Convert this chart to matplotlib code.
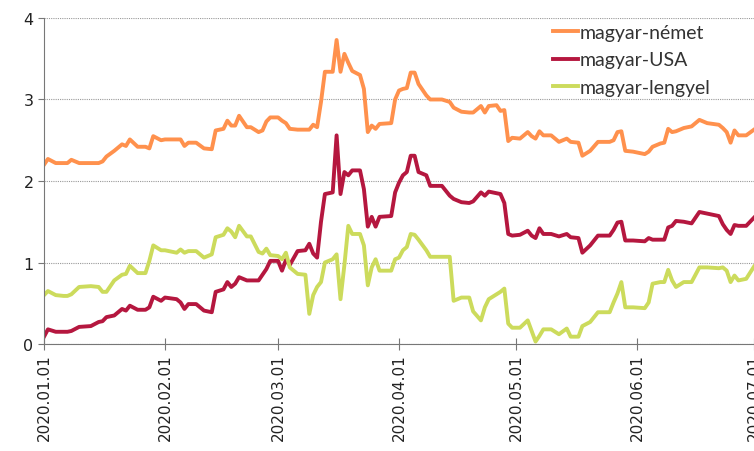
import numpy as np
import pandas as pd
import matplotlib
matplotlib.use("Agg")
import matplotlib.pyplot as plt
import matplotlib.dates as mdates

# -------- DATA --------
START = "2020-01-01"
# days since 2020-01-01
days = [0, 1, 3, 5, 6, 7, 9, 12, 14, 15, 16, 18, 20, 21, 22, 24, 26, 27, 28, 30,
        31, 34, 35, 36, 37, 39, 41, 43, 44, 46, 47, 48, 49, 50, 52, 53, 55, 56, 57, 58,
        60, 61, 62, 63, 65, 67, 68, 69, 70, 71, 72, 74, 75, 76, 77, 78, 79, 81, 82, 83,
        84, 85, 86, 89, 90, 91, 92, 93, 94, 95, 96, 98, 99, 102, 104, 105, 107, 109, 110, 112,
        113, 114, 116, 117, 118, 119, 120, 122, 124, 125, 126, 127, 128, 130, 132, 134, 135, 137, 138, 140,
        142, 145, 146, 147, 148, 149, 151, 154, 155, 156, 158, 159, 160, 161, 162, 164, 166, 168, 170, 173,
        174, 175, 176, 177, 178, 180, 182]

nemet = [2.20, 2.27, 2.22, 2.22, 2.22, 2.26, 2.22, 2.22, 2.22, 2.24, 2.30, 2.37, 2.45, 2.43, 2.51, 2.42, 2.42, 2.40, 2.55, 2.50,
         2.51, 2.51, 2.51, 2.43, 2.47, 2.47, 2.40, 2.39, 2.62, 2.64, 2.74, 2.68, 2.68, 2.80, 2.66, 2.66, 2.60, 2.62, 2.73, 2.78,
         2.78, 2.74, 2.71, 2.64, 2.63, 2.63, 2.63, 2.69, 2.66, 2.97, 3.34, 3.34, 3.73, 3.34, 3.56, 3.45, 3.35, 3.30, 3.13, 2.60,
         2.68, 2.64, 2.70, 2.71, 3.00, 3.11, 3.13, 3.14, 3.33, 3.33, 3.19, 3.05, 3.00, 3.00, 2.97, 2.90, 2.85, 2.84, 2.84, 2.92,
         2.84, 2.92, 2.93, 2.86, 2.87, 2.49, 2.53, 2.52, 2.60, 2.55, 2.52, 2.61, 2.56, 2.56, 2.48, 2.52, 2.48, 2.47, 2.31, 2.37,
         2.48, 2.48, 2.50, 2.60, 2.61, 2.37, 2.36, 2.33, 2.36, 2.42, 2.46, 2.47, 2.64, 2.60, 2.61, 2.65, 2.67, 2.75, 2.71, 2.69,
         2.65, 2.60, 2.47, 2.62, 2.56, 2.56, 2.63]

usa = [0.09, 0.18, 0.15, 0.15, 0.15, 0.16, 0.21, 0.22, 0.27, 0.28, 0.33, 0.35, 0.43, 0.41, 0.47, 0.42, 0.42, 0.45, 0.58, 0.53,
       0.57, 0.55, 0.51, 0.43, 0.49, 0.49, 0.41, 0.39, 0.64, 0.67, 0.76, 0.70, 0.74, 0.82, 0.78, 0.78, 0.78, 0.85, 0.92, 1.02,
       1.02, 0.90, 1.03, 0.97, 1.14, 1.15, 1.23, 1.11, 1.06, 1.50, 1.84, 1.86, 2.56, 1.84, 2.11, 2.07, 2.13, 2.13, 1.90, 1.44,
       1.56, 1.44, 1.56, 1.57, 1.86, 1.98, 2.07, 2.11, 2.31, 2.31, 2.11, 2.07, 1.94, 1.94, 1.82, 1.78, 1.74, 1.73, 1.75, 1.86,
       1.82, 1.87, 1.85, 1.84, 1.73, 1.35, 1.33, 1.34, 1.39, 1.33, 1.30, 1.42, 1.35, 1.35, 1.32, 1.35, 1.31, 1.30, 1.12, 1.21,
       1.33, 1.33, 1.40, 1.49, 1.50, 1.27, 1.27, 1.26, 1.30, 1.28, 1.28, 1.28, 1.43, 1.45, 1.51, 1.50, 1.48, 1.62, 1.60, 1.57,
       1.47, 1.40, 1.35, 1.46, 1.45, 1.45, 1.55]

lengyel = [0.60, 0.65, 0.60, 0.59, 0.59, 0.61, 0.70, 0.71, 0.70, 0.64, 0.64, 0.78, 0.85, 0.86, 0.96, 0.87, 0.87, 1.02, 1.21, 1.15,
           1.15, 1.12, 1.16, 1.12, 1.14, 1.14, 1.06, 1.10, 1.31, 1.34, 1.42, 1.38, 1.31, 1.45, 1.32, 1.32, 1.13, 1.11, 1.17, 1.09,
           1.08, 1.04, 1.12, 0.94, 0.86, 0.85, 0.37, 0.60, 0.70, 0.76, 1.00, 1.04, 1.10, 0.55, 0.97, 1.45, 1.35, 1.35, 1.21, 0.72,
           0.94, 1.04, 0.90, 0.90, 1.04, 1.06, 1.15, 1.19, 1.35, 1.34, 1.28, 1.15, 1.07, 1.07, 1.07, 0.53, 0.57, 0.57, 0.40, 0.29,
           0.45, 0.55, 0.61, 0.64, 0.68, 0.25, 0.20, 0.20, 0.29, 0.16, 0.03, 0.10, 0.18, 0.18, 0.12, 0.19, 0.09, 0.09, 0.22, 0.27,
           0.39, 0.39, 0.51, 0.62, 0.76, 0.45, 0.45, 0.44, 0.51, 0.74, 0.76, 0.76, 0.91, 0.78, 0.70, 0.76, 0.76, 0.94, 0.94, 0.93,
           0.94, 0.90, 0.76, 0.84, 0.78, 0.80, 0.95]

series_labels = ["magyar-német", "magyar-USA", "magyar-lengyel"]
series_colors = ["#FF914D", "#B5173F", "#CCDB5C"]
y_ticks = [0, 1, 2, 3, 4]
# ----------------------


def main():
    dates = pd.Timestamp(START) + pd.to_timedelta(days, unit="D")

    fig = plt.figure(figsize=(7.54, 4.52), dpi=100)
    ax = fig.add_axes([0.0584, 0.2367, 0.9416, 0.7213])

    for vals, lab, col in zip([nemet, usa, lengyel], series_labels, series_colors):
        ax.plot(dates, vals, color=col, linewidth=2.8, label=lab, solid_joinstyle="round")

    ax.set_ylim(0, 4)
    ax.set_yticks(y_ticks)
    ax.set_xlim(pd.Timestamp("2020-01-01"), pd.Timestamp("2020-07-01"))
    ax.xaxis.set_major_locator(mdates.MonthLocator())
    ax.xaxis.set_major_formatter(mdates.DateFormatter("%Y.%m.%d"))
    plt.setp(ax.get_xticklabels(), rotation=90)

    ax.grid(axis="y", linestyle=(0, (1, 1)), color="#999999", linewidth=0.8)
    ax.set_axisbelow(True)
    for s in ["top", "right"]:
        ax.spines[s].set_visible(False)
    ax.spines["left"].set_color("#777777")
    ax.spines["bottom"].set_color("#777777")
    ax.tick_params(axis="x", direction="inout", length=8, color="#777777",
                   labelsize=11, labelcolor="#222222", pad=2.5)
    ax.tick_params(axis="y", direction="out", length=4, color="#777777",
                   labelsize=11.5, labelcolor="#222222")

    leg = ax.legend(loc="upper right", bbox_to_anchor=(0.963, 1.035), frameon=False,
                    prop={"family": "Lato", "size": 14}, handlelength=1.3,
                    handletextpad=0.05, labelspacing=0.53)
    for t in leg.get_texts():
        t.set_color("#333333")

    fig.savefig("out.png", dpi=100)
    plt.close(fig)


if __name__ == "__main__":
    main()
